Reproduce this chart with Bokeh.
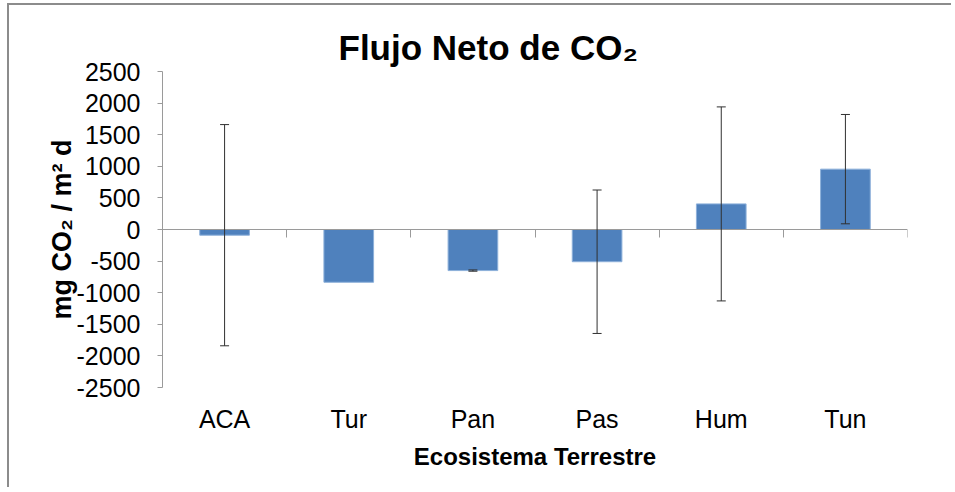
from bokeh.plotting import figure
from bokeh.models import ColumnDataSource, Range1d, LinearAxis, FixedTicker, Whisker, TeeHead
from bokeh.embed import file_html
from bokeh.resources import INLINE

# ---- data ----
categories = ["ACA", "Tur", "Pan", "Pas", "Hum", "Tun"]
flux = [-90, -835, -650, -510, 405, 955]          # mg CO2 / m2 d
error = [1750, 0, 10, 1135, 1535, 865]            # error bar half-length
y_ticks = [-2500, -2000, -1500, -1000, -500, 0, 500, 1000, 1500, 2000, 2500]
y_tick_labels = ["-2500", "-2000", "-1500", "-1000", "-500", "0",
                 "500", "1000", "1500", "2000", "2500"]

# ---- derived positions (category slots on a numeric axis) ----
xpos = [i + 0.5 for i in range(len(categories))]
bars = ColumnDataSource(dict(x=xpos, top=flux, cat=categories))
ex, eu, el = [], [], []
for xi, v, e in zip(xpos, flux, error):
    if e > 0:
        ex.append(xi)
        eu.append(v + e)
        el.append(v - e)
errs = ColumnDataSource(dict(x=ex, upper=eu, lower=el))

FONT = "Liberation Sans"
AXIS_GRAY = "#9a9a9a"

p = figure(width=944, height=484, x_range=Range1d(0, len(categories)),
           y_range=Range1d(y_ticks[0], y_ticks[-1]),
           output_backend="svg", toolbar_location=None,
           min_border_left=153, min_border_right=46,
           min_border_top=66, min_border_bottom=102,
           title="Flujo Neto de CO\u2082")
p.styles = {"border-left": "2px solid #8c8c8c", "border-top": "2px solid #8c8c8c",
            "margin-left": "7px", "margin-top": "3px"}
p.outline_line_color = None
p.grid.visible = False
p.background_fill_color = "white"
p.border_fill_color = "white"

p.title.text_font = FONT
p.title.text_font_size = "35px"
p.title.text_font_style = "bold"
p.title.align = "left"
p.title.offset = 176
p.title.text_color = "black"

# bars
p.vbar(x="x", top="top", bottom=0, width=0.4, source=bars,
       fill_color="#4f81bd", line_color="#8db0da", line_width=1)

# error bars
p.add_layout(Whisker(source=errs, base="x", upper="upper", lower="lower",
                     line_color="#303030", line_width=1, level="overlay",
                     upper_head=TeeHead(size=9, line_color="#303030", line_width=1),
                     lower_head=TeeHead(size=9, line_color="#303030", line_width=1)))

# y axis
ya = p.yaxis[0]
ya.ticker = FixedTicker(ticks=y_ticks)
ya.major_label_overrides = {t: s for t, s in zip(y_ticks, y_tick_labels)}
ya.axis_line_color = AXIS_GRAY
ya.major_tick_line_color = AXIS_GRAY
ya.major_tick_in = 0
ya.major_tick_out = 5
ya.minor_tick_line_color = None
ya.major_label_text_font = FONT
ya.major_label_text_font_size = "25px"
ya.major_label_text_color = "black"
ya.major_label_standoff = 17
ya.axis_label = "mg CO\u2082 / m\u00b2 d"
ya.axis_label_text_font = FONT
ya.axis_label_text_font_size = "27px"
ya.axis_label_text_font_style = "bold"
ya.axis_label_text_color = "black"
ya.axis_label_standoff = -3

# category labels (bottom)
xa = p.xaxis[0]
xa.ticker = FixedTicker(ticks=xpos)
xa.major_label_overrides = {x: c for x, c in zip(xpos, categories)}
xa.axis_line_color = None
xa.major_tick_line_color = None
xa.minor_tick_line_color = None
xa.major_label_text_font = FONT
xa.major_label_text_font_size = "25px"
xa.major_label_text_color = "black"
xa.major_label_standoff = 11
xa.axis_label = "Ecosistema Terrestre"
xa.axis_label_text_font = FONT
xa.axis_label_text_font_size = "24px"
xa.axis_label_text_font_style = "bold"
xa.axis_label_text_color = "black"
xa.axis_label_standoff = 7

# horizontal category axis crossing at zero, ticks between categories
za = LinearAxis(fixed_location=0,
                ticker=FixedTicker(ticks=list(range(len(categories) + 1))))
za.major_label_overrides = {i: "" for i in range(len(categories) + 1)}
za.axis_line_color = AXIS_GRAY
za.major_tick_line_color = AXIS_GRAY
za.major_tick_in = 0
za.major_tick_out = 8
za.minor_tick_line_color = None
p.add_layout(za, "below")

open("out.html", "w").write(file_html(p, INLINE))
